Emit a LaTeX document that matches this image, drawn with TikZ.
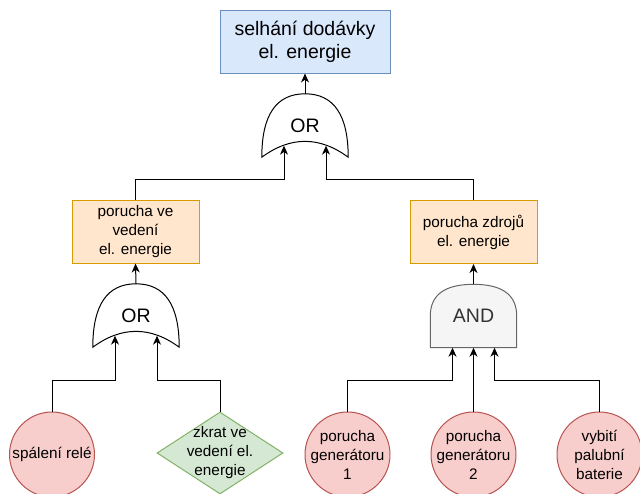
\documentclass[tikz,border=0pt]{standalone}
\usepackage{fontspec}
\setmainfont{Liberation Sans}
\usetikzlibrary{calc,shapes.geometric,arrows.meta,backgrounds}

\definecolor{topfill}{HTML}{DAE8FC}
\definecolor{topdraw}{HTML}{6C8EBF}
\definecolor{midfill}{HTML}{FFE6CC}
\definecolor{middraw}{HTML}{D79B00}
\definecolor{evfill}{HTML}{F8CECC}
\definecolor{evdraw}{HTML}{B85450}
\definecolor{dmfill}{HTML}{D5E8D4}
\definecolor{dmdraw}{HTML}{82B366}
\definecolor{andfill}{HTML}{F5F5F5}
\definecolor{anddraw}{HTML}{666666}
\definecolor{andtext}{HTML}{333333}

\tikzset{
  smalltext/.style={font=\fontsize{15.3}{19}\selectfont, align=center},
  topbox/.style={rectangle, draw=topdraw, fill=topfill, line width=1pt,
    minimum width=170pt, minimum height=63pt, inner sep=0pt, align=center,
    font=\fontsize{19.5}{23}\selectfont},
  midbox/.style={rectangle, draw=middraw, fill=midfill, line width=1pt,
    minimum width=127pt, minimum height=63pt, inner sep=0pt, smalltext},
  gatebox/.style={rectangle, minimum width=86pt, minimum height=63pt,
    inner sep=0pt, font=\fontsize{19.5}{23}\selectfont},
  orshape/.style={draw=black, fill=white, line width=1pt},
  andshape/.style={draw=anddraw, fill=andfill, line width=1pt},
  evcircle/.style={circle, draw=evdraw, fill=evfill, line width=1pt,
    minimum size=85pt, inner sep=0pt, label={[smalltext]center:#1}},
  evdiamond/.style={diamond, draw=dmdraw, fill=dmfill, line width=1pt,
    minimum width=126pt, minimum height=82pt, inner sep=0pt,
    label={[smalltext]center:#1}},
  link/.style={draw=black, line width=1pt,
    -{Stealth[length=9pt,width=8pt,inset=2.8pt]}},
}

% OR gate outline facing up, drawn from the anchors of a gate node
\newcommand\orgateoutline[1]{%
  \draw[orshape] (#1.south west)
    .. controls ($(#1.south west)!2/3!(#1.north west)$) and ($(#1.north)!2/3!(#1.north west)$) .. (#1.north)
    .. controls ($(#1.north)!2/3!(#1.north east)$) and ($(#1.south east)!2/3!(#1.north east)$) .. (#1.south east)
    .. controls ($(#1.south east)!2/3!(#1.center)$) and ($(#1.south west)!2/3!(#1.center)$) .. (#1.south west)
    -- cycle;}
% AND gate outline facing up
\newcommand\andgateoutline[1]{%
  \draw[andshape] (#1.south west) -- (#1.west)
    .. controls ($(#1.west)!2/3!(#1.north west)$) and ($(#1.north)!2/3!(#1.north west)$) .. (#1.north)
    .. controls ($(#1.north)!2/3!(#1.north east)$) and ($(#1.east)!2/3!(#1.north east)$) .. (#1.east)
    -- (#1.south east) -- cycle;}

\begin{document}
\begin{tikzpicture}[x=1pt, y=-1pt]
  \useasboundingbox (0,0) rectangle (640,493);
  \clip (0,0) rectangle (640,493);

  % top event
  \node[topbox] (top) at (305,41.5) {selhání dodávky\\el. energie};
  \node[gatebox] (or1) at (305,125.5) {OR};

  % intermediate events
  \node[midbox] (bl) at (135.5,231.5) {porucha ve\\vedení\\el. energie};
  \node[midbox] (br) at (473.5,232) {porucha zdrojů\\el. energie};
  \node[gatebox] (or2) at (136,315.5) {OR};
  \node[gatebox, text=andtext] (and1) at (473.5,316) {AND};

  % basic events
  \node[evcircle={spálení relé}] (e1) at (52,454.5) {};
  \node[evdiamond={zkrat ve\\vedení el.\\energie}] (e2) at (220,453) {};
  \node[evcircle={porucha\\generátoru\\1}] (e3) at (347.5,454.5) {};
  \node[evcircle={porucha\\generátoru\\2}] (e4) at (473.5,454.5) {};
  \node[evcircle={vybití\\palubní\\baterie}] (e5) at (599.5,454.5) {};

  % page background and gate bodies, behind the gate labels
  \begin{pgfonlayer}{background}
    \fill[white] (0,0) rectangle (640,493);
    \orgateoutline{or1}
    \orgateoutline{or2}
    \andgateoutline{and1}
  \end{pgfonlayer}

  % gate inputs and routing levels
  \coordinate (or1a) at ($(or1.south)+(-21,-11.5)$);
  \coordinate (or1b) at ($(or1.south)+(21,-11.5)$);
  \coordinate (or2a) at ($(or2.south)+(-21,-11.5)$);
  \coordinate (or2b) at ($(or2.south)+(21,-11.5)$);
  \coordinate (anda) at ($(and1.south)+(-21,0)$);
  \coordinate (andb) at (and1.south);
  \coordinate (andc) at ($(and1.south)+(21,0)$);
  \coordinate (upper) at (0,179.5);
  \coordinate (lower) at (0,380);

  % gate outputs
  \draw[link] (or1.north) -- (top.south);
  \draw[link] (or2.north) -- (bl.south);
  \draw[link] (and1.north) -- (br.south);

  % inputs of the top OR gate
  \draw[link] (bl.north) -- (bl.north |- upper) -| (or1a);
  \draw[link] (br.north) -- (br.north |- upper) -| (or1b);

  % inputs of the lower gates
  \draw[link] (e1.north) -- (e1.north |- lower) -| (or2a);
  \draw[link] (e2.north) -- (e2.north |- lower) -| (or2b);
  \draw[link] (e3.north) -- (e3.north |- lower) -| (anda);
  \draw[link] (e4.north) -- (andb);
  \draw[link] (e5.north) -- (e5.north |- lower) -| (andc);
\end{tikzpicture}
\end{document}
